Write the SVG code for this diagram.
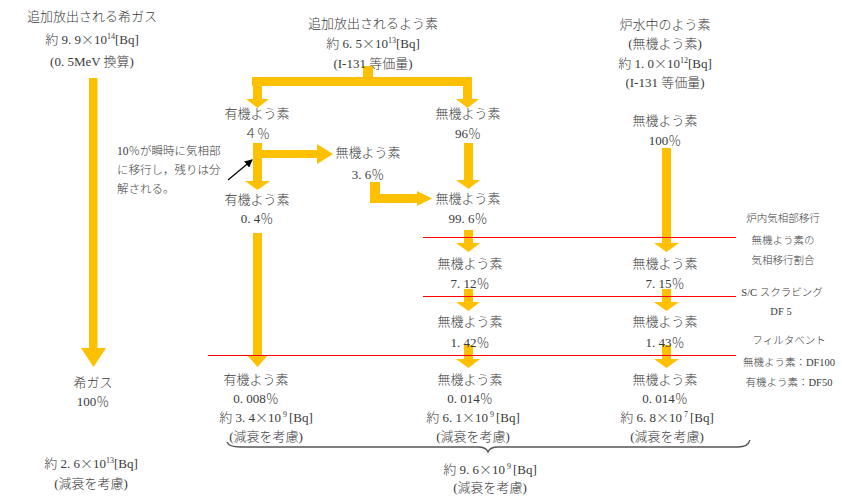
<svg xmlns="http://www.w3.org/2000/svg" width="842" height="499" viewBox="0 0 842 499">
<style>
.t{font-family:"Liberation Serif","Noto Sans CJK JP",serif;font-size:13px;fill:#3a3a3a;text-anchor:middle;font-weight:300}
.s{font-size:11.5px;text-anchor:start}
.r{font-size:10.5px}
.sup{font-size:8px}
.x{font-family:"Noto Sans CJK JP",sans-serif}
.a{fill:#FFC000}
.red{stroke:#FF0000;stroke-width:1.2;fill:none}
.br{stroke:#555;stroke-width:1.3;fill:none}
</style>
<defs>
<marker id="bk" markerWidth="8" markerHeight="8" refX="7" refY="4" orient="auto" markerUnits="userSpaceOnUse">
<path d="M0,0 L8,4 L0,8 z" fill="#000"/>
</marker>
</defs>
<rect width="842" height="499" fill="#fff"/>

<g id="connectors">
<rect class="a" x="89" y="78" width="8.5" height="271"/>
<polygon class="a" points="81,348 106,348 93.5,367"/>
<rect class="a" x="363" y="66" width="10" height="20"/>
<rect class="a" x="252" y="77" width="220" height="9"/>
<rect class="a" x="253" y="77" width="9" height="23"/>
<polygon class="a" points="246,99 269,99 257.5,108"/>
<rect class="a" x="463" y="77" width="9" height="23"/>
<polygon class="a" points="456,99 479,99 467.5,108"/>
<rect class="a" x="253" y="143" width="9" height="39"/>
<polygon class="a" points="245,181 270,181 257.5,190"/>
<rect class="a" x="262" y="150" width="56" height="8"/>
<polygon class="a" points="317,144 317,164 333,154"/>
<line x1="228" y1="180" x2="252" y2="160" stroke="#000" stroke-width="1.2" marker-end="url(#bk)"/>
<rect class="a" x="464" y="143" width="9" height="38"/>
<polygon class="a" points="456,180 480,180 468.5,189"/>
<rect class="a" x="370" y="182" width="10" height="21"/>
<rect class="a" x="370" y="194" width="48" height="9"/>
<polygon class="a" points="417,191 417,206 432,198.5"/>
<rect class="a" x="662" y="148" width="9" height="96"/>
<polygon class="a" points="654,243 679,243 666.5,252"/>
<rect class="a" x="464" y="230" width="9" height="14"/>
<polygon class="a" points="456,243 480,243 468.5,252"/>
<rect class="a" x="464" y="289" width="9" height="14"/>
<polygon class="a" points="456,302 480,302 468.5,311"/>
<rect class="a" x="662" y="289" width="9" height="14"/>
<polygon class="a" points="654,302 679,302 666.5,311"/>
<rect class="a" x="464" y="345" width="9" height="16"/>
<polygon class="a" points="456,359 480,359 468.5,368"/>
<rect class="a" x="662" y="345" width="9" height="16"/>
<polygon class="a" points="654,359 679,359 666.5,368"/>
<rect class="a" x="253" y="233" width="9" height="123"/>
<polygon class="a" points="247,355 268,355 257.5,367"/>
<line class="red" x1="423" y1="237.5" x2="736" y2="237.5"/>
<line class="red" x1="423" y1="296.5" x2="736" y2="296.5"/>
<line class="red" x1="208" y1="355.5" x2="736" y2="355.5"/>
<path class="br" d="M227,442 Q229,447 240,447 L478,447 Q486,447 488,452 Q490,447 498,447 L738,447 Q748,447 750,440"/>
</g>

<g id="n-noble-src" class="t">
<text x="92" y="21">追加放出される希ガス</text>
<text x="92" y="44">約 9. 9<tspan class="x">×</tspan>10<tspan class="sup" dy="-5">14</tspan><tspan dy="5">[Bq]</tspan></text>
<text x="92" y="66">(0. 5MeV 換算)</text>
</g>
<g id="n-iodine-src" class="t">
<text x="373" y="28">追加放出されるよう素</text>
<text x="373" y="48">約 6. 5<tspan class="x">×</tspan>10<tspan class="sup" dy="-5">13</tspan><tspan dy="5">[Bq]</tspan></text>
<text x="373" y="68">(I-131 等価量)</text>
</g>
<g id="n-water-src" class="t">
<text x="665" y="29">炉水中のよう素</text>
<text x="665" y="48">(無機よう素)</text>
<text x="665" y="68">約 1. 0<tspan class="x">×</tspan>10<tspan class="sup" dy="-5">12</tspan><tspan dy="5">[Bq]</tspan></text>
<text x="665" y="87">(I-131 等価量)</text>
</g>

<g id="n-org4" class="t">
<text x="257" y="118">有機よう素</text>
<text x="257" y="138">４％</text>
</g>
<g id="n-inorg96" class="t">
<text x="468" y="118">無機よう素</text>
<text x="468" y="138">96％</text>
</g>
<g id="n-water100" class="t">
<text x="665" y="125">無機よう素</text>
<text x="665" y="145">100％</text>
</g>
<g id="n-note" class="t s">
<text x="117" y="155">10％が瞬時に気相部</text>
<text x="117" y="174">に移行し，残りは分</text>
<text x="117" y="193">解される。</text>
</g>
<g id="n-inorg36" class="t">
<text x="368" y="157">無機よう素</text>
<text x="368" y="179">3. 6％</text>
</g>
<g id="n-org04" class="t">
<text x="257" y="204">有機よう素</text>
<text x="257" y="223">0. 4％</text>
</g>
<g id="n-inorg996" class="t">
<text x="468" y="203">無機よう素</text>
<text x="468" y="223">99. 6％</text>
</g>
<g id="n-inorg712" class="t">
<text x="470" y="268">無機よう素</text>
<text x="470" y="288">7. 12％</text>
</g>
<g id="n-inorg715" class="t">
<text x="665" y="268">無機よう素</text>
<text x="665" y="288">7. 15％</text>
</g>
<g id="n-inorg142" class="t">
<text x="470" y="326">無機よう素</text>
<text x="470" y="347">1. 42％</text>
</g>
<g id="n-inorg143" class="t">
<text x="665" y="326">無機よう素</text>
<text x="665" y="347">1. 43％</text>
</g>

<g id="n-noble-out" class="t">
<text x="93" y="387">希ガス</text>
<text x="93" y="406">100％</text>
<text x="91" y="468">約 2. 6<tspan class="x">×</tspan>10<tspan class="sup" dy="-5">13</tspan><tspan dy="5">[Bq]</tspan></text>
<text x="91" y="488">(減衰を考慮)</text>
</g>
<g id="n-org-out" class="t">
<text x="256" y="384">有機よう素</text>
<text x="256" y="403">0. 008％</text>
<text x="266" y="422">約 3. 4<tspan class="x">×</tspan>10<tspan class="sup" dy="-5"> 9 </tspan><tspan dy="5">[Bq]</tspan></text>
<text x="266" y="441">(減衰を考慮)</text>
</g>
<g id="n-inorg-out" class="t">
<text x="470" y="384">無機よう素</text>
<text x="470" y="403">0. 014％</text>
<text x="473" y="422">約 6. 1<tspan class="x">×</tspan>10<tspan class="sup" dy="-5"> 9 </tspan><tspan dy="5">[Bq]</tspan></text>
<text x="473" y="441">(減衰を考慮)</text>
</g>
<g id="n-water-out" class="t">
<text x="665" y="384">無機よう素</text>
<text x="665" y="403">0. 014％</text>
<text x="667" y="422">約 6. 8<tspan class="x">×</tspan>10<tspan class="sup" dy="-5"> 7 </tspan><tspan dy="5">[Bq]</tspan></text>
<text x="667" y="441">(減衰を考慮)</text>
</g>
<g id="n-total" class="t">
<text x="490" y="474">約 9. 6<tspan class="x">×</tspan>10<tspan class="sup" dy="-5"> 9 </tspan><tspan dy="5">[Bq]</tspan></text>
<text x="490" y="492">(減衰を考慮)</text>
</g>

<g id="n-label1" class="t r">
<text x="783" y="222">炉内気相部移行</text>
<text x="783" y="244">無機よう素の</text>
<text x="783" y="264">気相移行割合</text>
</g>
<g id="n-label2" class="t r">
<text x="782" y="296">S/C スクラビング</text>
<text x="781" y="315">DF 5</text>
</g>
<g id="n-label3" class="t r">
<text x="789" y="344">フィルタベント</text>
<text x="789" y="366">無機よう素：DF100</text>
<text x="789" y="386">有機よう素：DF50</text>
</g>
</svg>
